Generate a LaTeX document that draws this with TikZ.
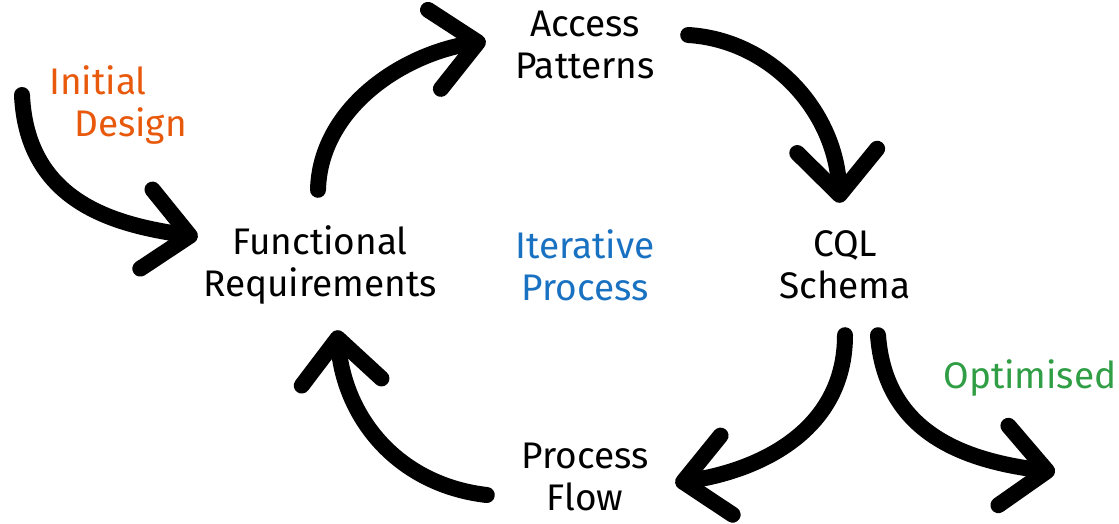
\documentclass[tikz,border=0pt]{standalone}
\usepackage{fontspec}
\setmainfont{Fira Sans}
\usetikzlibrary{arrows.meta}
\definecolor{orng}{HTML}{E8590C}
\definecolor{blu}{HTML}{1971C2}
\definecolor{grn}{HTML}{2F9E44}
\begin{document}
\begin{tikzpicture}[x=1pt,y=-1pt,
  lbl/.style={align=center,font=\fontsize{37}{42}\selectfont,inner sep=0pt,minimum height=86pt},
  flow/.style={line width=16pt,line cap=round,-{Straight Barb[length=44pt,width=80pt,round]}}]
\useasboundingbox[fill=white] (0,0) rectangle (1119,523);
\node[lbl,minimum width=240pt] (fr) at (320,265) {Functional\\Requirements};
\node[lbl,minimum width=170pt] (ap) at (585,45) {Access\\Patterns};
\node[lbl,minimum width=130pt] (cql) at (845,265) {CQL\\Schema};
\node[lbl,minimum width=140pt,minimum height=76pt] (pf) at (585,477) {Process\\Flow};
\node[lbl,text=blu] (it) at (585,265) {Iterative\\Process};
\node[lbl,text=orng,align=left] (init) at (118,105) {Initial\\\hspace*{25pt}Design};
\node[lbl,text=grn,minimum height=0pt] (opt) at (1030,378) {Optimised};
\coordinate (s1) at (22,95);
\coordinate (e5) at (1055,472);
\draw[flow] (s1) .. controls +(5,110) and +(-78,-12) .. ([shift={(-2,-28)}]fr.west);
\draw[flow] ([shift={(-2,-32)}]fr.north) .. controls +(2,-80) and +(-86,14) .. ([shift={(-14,-4)}]ap.west);
\draw[flow] ([shift={(18,-10)}]ap.east) .. controls +(82,5) and +(-5,-93) .. ([shift={(-5,-19)}]cql.north);
\draw[flow] ([shift={(0,27)}]cql.south) .. controls +(0,95) and +(85,-13) .. ([shift={(20,6)}]pf.east);
\draw[flow] ([shift={(33,27)}]cql.south) .. controls +(7,95) and +(-95,-12) .. (e5);
\draw[flow] ([shift={(-28,18)}]pf.west) .. controls +(-87,-10) and +(8,90) .. ([shift={(17,22)}]fr.south);
\end{tikzpicture}
\end{document}
